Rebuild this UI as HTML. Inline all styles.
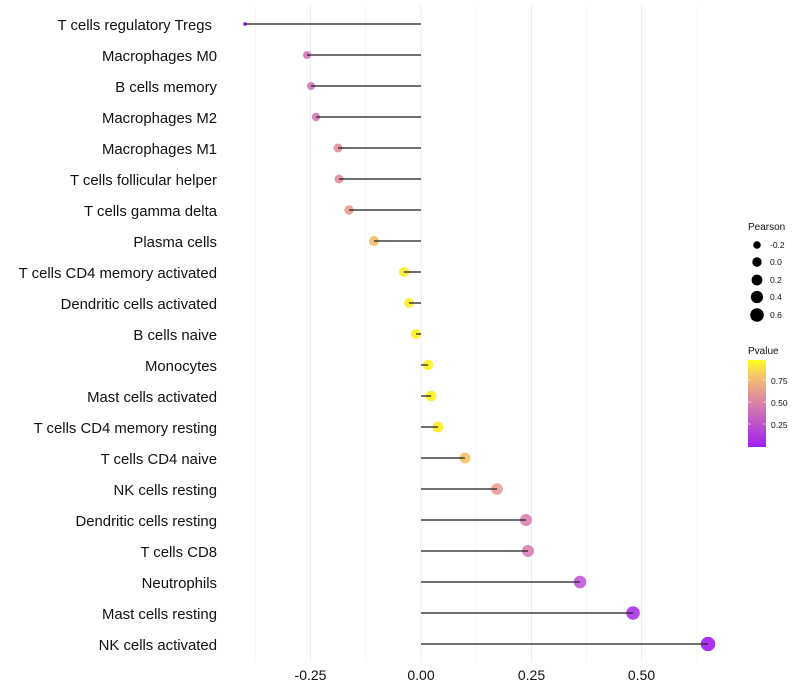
<!DOCTYPE html>
<html><head><meta charset="utf-8"><style>
html,body{margin:0;padding:0;background:#fff;}
svg{display:block;font-family:"Liberation Sans",sans-serif;}
</style></head><body>
<svg width="800" height="700" xmlns="http://www.w3.org/2000/svg">
<defs>
<linearGradient id="pg" x1="0" y1="1" x2="0" y2="0">
<stop offset="0" stop-color="#a020f0"/>
<stop offset="0.5" stop-color="#d880a8"/>
<stop offset="0.8" stop-color="#f5c070"/>
<stop offset="1" stop-color="#ffff20"/>
</linearGradient>
</defs>
<g stroke="#eeeeee" stroke-width="1">
<line x1="310.5" y1="5" x2="310.5" y2="662"/>
<line x1="421" y1="5" x2="421" y2="662"/>
<line x1="531.5" y1="5" x2="531.5" y2="662"/>
<line x1="641.5" y1="5" x2="641.5" y2="662"/>
</g>
<g stroke="#f6f6f6" stroke-width="1">
<line x1="255.5" y1="5" x2="255.5" y2="662"/>
<line x1="365.8" y1="5" x2="365.8" y2="662"/>
<line x1="476" y1="5" x2="476" y2="662"/>
<line x1="586.5" y1="5" x2="586.5" y2="662"/>
<line x1="697" y1="5" x2="697" y2="662"/>
</g>
<g opacity="0.85">
<circle cx="245" cy="24" r="2" fill="#a020f0"/>
<circle cx="307" cy="55" r="4" fill="#d070b8"/>
<circle cx="311" cy="86" r="4" fill="#d070b8"/>
<circle cx="316" cy="117" r="4.2" fill="#d072b4"/>
<circle cx="338" cy="148" r="4.5" fill="#e08898"/>
<circle cx="339" cy="179" r="4.5" fill="#e08898"/>
<circle cx="349" cy="210" r="4.7" fill="#e89c88"/>
<circle cx="374" cy="241" r="5" fill="#f5b860"/>
<circle cx="404" cy="272" r="5" fill="#fce820"/>
<circle cx="409" cy="303" r="5" fill="#fce820"/>
<circle cx="416" cy="334" r="5" fill="#ffee10"/>
<circle cx="428" cy="365" r="5.2" fill="#ffee10"/>
<circle cx="431" cy="396" r="5.3" fill="#ffee10"/>
<circle cx="438" cy="427" r="5.4" fill="#ffe818"/>
<circle cx="465" cy="458" r="5.5" fill="#f5c060"/>
<circle cx="497" cy="489" r="5.8" fill="#e89890"/>
<circle cx="526" cy="520" r="6" fill="#d878b0"/>
<circle cx="528" cy="551" r="6" fill="#d878b0"/>
<circle cx="580" cy="582" r="6.3" fill="#c050d8"/>
<circle cx="633" cy="613" r="6.8" fill="#a828e8"/>
<circle cx="708" cy="644" r="7.3" fill="#9c10f0"/>
</g>
<g stroke="#222" stroke-width="1.5" opacity="0.85">
<line x1="421" y1="24" x2="245" y2="24"/>
<line x1="421" y1="55" x2="307" y2="55"/>
<line x1="421" y1="86" x2="311" y2="86"/>
<line x1="421" y1="117" x2="316" y2="117"/>
<line x1="421" y1="148" x2="338" y2="148"/>
<line x1="421" y1="179" x2="339" y2="179"/>
<line x1="421" y1="210" x2="349" y2="210"/>
<line x1="421" y1="241" x2="374" y2="241"/>
<line x1="421" y1="272" x2="404" y2="272"/>
<line x1="421" y1="303" x2="409" y2="303"/>
<line x1="421" y1="334" x2="416" y2="334"/>
<line x1="421" y1="365" x2="428" y2="365"/>
<line x1="421" y1="396" x2="431" y2="396"/>
<line x1="421" y1="427" x2="438" y2="427"/>
<line x1="421" y1="458" x2="465" y2="458"/>
<line x1="421" y1="489" x2="497" y2="489"/>
<line x1="421" y1="520" x2="526" y2="520"/>
<line x1="421" y1="551" x2="528" y2="551"/>
<line x1="421" y1="582" x2="580" y2="582"/>
<line x1="421" y1="613" x2="633" y2="613"/>
<line x1="421" y1="644" x2="708" y2="644"/>
</g>
<g font-size="14.9" fill="#111" text-anchor="end">
<text x="212" y="30">T cells regulatory  Tregs</text>
<text x="217" y="61">Macrophages M0</text>
<text x="217" y="92">B cells memory</text>
<text x="217" y="123">Macrophages M2</text>
<text x="217" y="154">Macrophages M1</text>
<text x="217" y="185">T cells follicular helper</text>
<text x="217" y="216">T cells gamma delta</text>
<text x="217" y="247">Plasma cells</text>
<text x="217" y="278">T cells CD4 memory activated</text>
<text x="217" y="309">Dendritic cells activated</text>
<text x="217" y="340">B cells naive</text>
<text x="217" y="371">Monocytes</text>
<text x="217" y="402">Mast cells activated</text>
<text x="217" y="433">T cells CD4 memory resting</text>
<text x="217" y="464">T cells CD4 naive</text>
<text x="217" y="495">NK cells resting</text>
<text x="217" y="526">Dendritic cells resting</text>
<text x="217" y="557">T cells CD8</text>
<text x="217" y="588">Neutrophils</text>
<text x="217" y="619">Mast cells resting</text>
<text x="217" y="650">NK cells activated</text>
</g>
<g font-size="14" fill="#111" text-anchor="middle">
<text x="310.5" y="680">-0.25</text>
<text x="421" y="680">0.00</text>
<text x="531.5" y="680">0.25</text>
<text x="641.5" y="680">0.50</text>
</g>
<g font-size="10" fill="#111">
<text x="748" y="230">Pearson</text>
<circle cx="757" cy="245" r="3.8" fill="#000"/>
<circle cx="757" cy="262" r="4.7" fill="#000"/>
<circle cx="757" cy="280" r="5.4" fill="#000"/>
<circle cx="757" cy="297" r="6.1" fill="#000"/>
<circle cx="757" cy="315" r="6.8" fill="#000"/>
<g font-size="8.5">
<text x="770" y="248">-0.2</text>
<text x="770" y="265">0.0</text>
<text x="770" y="283">0.2</text>
<text x="770" y="300">0.4</text>
<text x="770" y="318">0.6</text>
</g>
<text x="748" y="354">Pvalue</text>
<rect x="748" y="360" width="18" height="87" fill="url(#pg)"/>
<g stroke="#fff" stroke-opacity="0.6" stroke-width="1">
<line x1="748" y1="380" x2="751" y2="380"/><line x1="763" y1="380" x2="766" y2="380"/>
<line x1="748" y1="402" x2="751" y2="402"/><line x1="763" y1="402" x2="766" y2="402"/>
<line x1="748" y1="424" x2="751" y2="424"/><line x1="763" y1="424" x2="766" y2="424"/>
</g>
<g font-size="8.5">
<text x="771" y="384">0.75</text>
<text x="771" y="406">0.50</text>
<text x="771" y="428">0.25</text>
</g>
</g>
</svg>
</body></html>
